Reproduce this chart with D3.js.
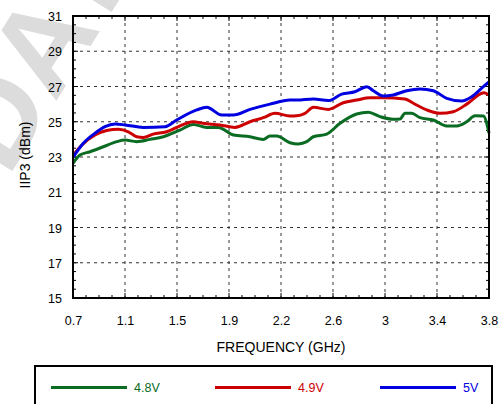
<!DOCTYPE html>
<html><head><meta charset="utf-8">
<script src="https://cdn.jsdelivr.net/npm/d3@7"></script>
<style>body{margin:0;background:#fff}svg{display:block;font-family:"Liberation Sans",Arial,Helvetica,sans-serif}</style>
</head><body><svg id="c" width="502" height="404"></svg>
<script>
const xTicks = [0.7, 1.0875, 1.475, 1.8625, 2.25, 2.6375, 3.025, 3.4125, 3.8];
const xTickLabels = ["0.7","1.1","1.5","1.9","2.2","2.6","3","3.4","3.8"];
const yTicks = [15,17,19,21,23,25,27,29,31];
const seriesNames = ["4.8V","4.9V","5V"];
const seriesColors = ["#0a6b22","#cc0000","#0000e0"];

const freq48 = [0.7,0.752,0.827,0.926,1.026,1.088,1.175,1.274,1.373,1.497,1.596,1.696,1.783,1.895,2.019,2.118,2.168,2.218,2.317,2.379,2.442,2.491,2.591,2.69,2.814,2.901,2.988,3.087,3.137,3.174,3.224,3.286,3.385,3.485,3.559,3.634,3.696,3.758,3.8];
const iip48 = [22.64,23.11,23.3,23.58,23.87,23.96,23.87,24.0,24.15,24.53,24.85,24.68,24.68,24.25,24.15,24.0,24.19,24.19,23.81,23.74,23.87,24.15,24.3,24.91,25.44,25.54,25.29,25.14,25.16,25.48,25.48,25.23,25.1,24.76,24.76,25.0,25.34,25.33,24.35];

const freq49 = [0.7,0.765,0.864,0.951,1.038,1.112,1.175,1.224,1.298,1.398,1.473,1.596,1.671,1.795,1.907,2.019,2.118,2.205,2.317,2.367,2.429,2.491,2.603,2.714,2.814,2.913,3.012,3.174,3.236,3.336,3.435,3.534,3.634,3.733,3.763,3.8];
const iip49 = [23.1,23.67,24.25,24.5,24.57,24.43,24.15,24.11,24.3,24.43,24.68,25.0,24.91,24.82,24.68,25.0,25.23,25.48,25.33,25.34,25.48,25.82,25.7,26.08,26.23,26.36,26.36,26.29,26.05,25.67,25.48,25.57,26.0,26.57,26.65,26.52];

const freq50 = [0.702,0.777,0.864,0.938,1.013,1.088,1.224,1.386,1.473,1.622,1.696,1.808,1.895,2.019,2.168,2.317,2.367,2.491,2.603,2.702,2.801,2.889,2.938,3.012,3.087,3.187,3.286,3.385,3.485,3.597,3.671,3.758,3.8];
const iip50 = [23.0,23.78,24.35,24.72,24.87,24.82,24.68,24.72,25.1,25.67,25.82,25.38,25.38,25.7,26.0,26.23,26.23,26.29,26.2,26.57,26.7,26.99,26.76,26.46,26.52,26.76,26.86,26.76,26.33,26.18,26.42,26.99,27.26];

const svg = d3.select("#c");
const L=73,R=489,T=16,B=298;
const x = d3.scaleLinear().domain([0.7,3.8]).range([L,R]);
const y = d3.scaleLinear().domain([15,31]).range([B,T]);

// watermark
svg.append("text").attr("transform","translate(8,178) rotate(-58)")
  .attr("font-size",122).attr("font-weight","bold").attr("fill","#dcdcdc")
  .text("DATA");

// grid
const g = svg.append("g");
g.selectAll(".gx").data(xTicks.slice(1,-1)).join("line")
  .attr("x1",d=>x(d)).attr("x2",d=>x(d)).attr("y1",T).attr("y2",B)
  .attr("stroke","#333").attr("stroke-width",1).attr("stroke-dasharray","3,4");
g.selectAll(".gy").data(yTicks.slice(1,-1)).join("line")
  .attr("y1",d=>y(d)).attr("y2",d=>y(d)).attr("x1",L).attr("x2",R)
  .attr("stroke","#333").attr("stroke-width",1).attr("stroke-dasharray","3,4");

// minor ticks
const xMinor = d3.range(0,33).map(i=>0.7+i*3.1/32);
const yMinor = d3.range(15,31.01,0.5);
const tk = svg.append("g").attr("stroke","#000").attr("stroke-width",1);
xMinor.forEach((v,i)=>{
  const len = i%4===0?5:3;
  tk.append("line").attr("x1",x(v)).attr("x2",x(v)).attr("y1",B).attr("y2",B-len);
  tk.append("line").attr("x1",x(v)).attr("x2",x(v)).attr("y1",T).attr("y2",T+len);
});
yMinor.forEach((v,i)=>{
  const len = i%4===0?5:3;
  tk.append("line").attr("y1",y(v)).attr("y2",y(v)).attr("x1",L).attr("x2",L+len);
  tk.append("line").attr("y1",y(v)).attr("y2",y(v)).attr("x1",R).attr("x2",R-len);
});

// lines
const line = d3.line().x(d=>x(d[0])).y(d=>y(d[1])).curve(d3.curveMonotoneX);
const series = [[freq48,iip48],[freq49,iip49],[freq50,iip50]];
series.forEach((s,i)=>{
  svg.append("path").datum(d3.zip(s[0],s[1])).attr("d",line)
    .attr("fill","none").attr("stroke",seriesColors[i]).attr("stroke-width",3)
    .attr("stroke-linejoin","round");
});

// frame
svg.append("rect").attr("x",L).attr("y",T).attr("width",R-L).attr("height",B-T)
  .attr("fill","none").attr("stroke","#000").attr("stroke-width",2);

// axes labels
const xa = d3.axisBottom(x).tickValues(xTicks).tickFormat((d,i)=>xTickLabels[i]).tickSize(0).tickPadding(0);
const xg = svg.append("g").attr("transform",`translate(0,${B})`).call(xa);
xg.select(".domain").remove();
xg.selectAll("text").attr("dy",null).attr("y",27).attr("font-size",12.5).attr("fill","#000").attr("font-family","Liberation Sans, Arial, sans-serif");
const ya = d3.axisLeft(y).tickValues(yTicks).tickSize(0).tickPadding(11);
const yg = svg.append("g").attr("transform",`translate(${L},0)`).call(ya);
yg.select(".domain").remove();
yg.selectAll("text").attr("font-size",12.5).attr("fill","#000").attr("dy","0.36em").attr("font-family","Liberation Sans, Arial, sans-serif");

svg.append("text").attr("x",(L+R)/2).attr("y",352).attr("text-anchor","middle")
  .attr("font-size",14).text("FREQUENCY (GHz)");
svg.append("text").attr("transform","translate(30,155) rotate(-90)").attr("text-anchor","middle")
  .attr("font-size",14).text("IIP3 (dBm)");

// legend
svg.append("rect").attr("x",35).attr("y",366).attr("width",457).attr("height",50)
  .attr("fill","#fff").attr("stroke","#000").attr("stroke-width",2);
const legX = [51,215,380];
seriesNames.forEach((n,i)=>{
  svg.append("line").attr("x1",legX[i]).attr("x2",legX[i]+76).attr("y1",387.5).attr("y2",387.5)
    .attr("stroke",seriesColors[i]).attr("stroke-width",3);
  svg.append("text").attr("x",legX[i]+83).attr("y",392).attr("font-size",12.5)
    .attr("fill",seriesColors[i]).text(n);
});
</script></body></html>
